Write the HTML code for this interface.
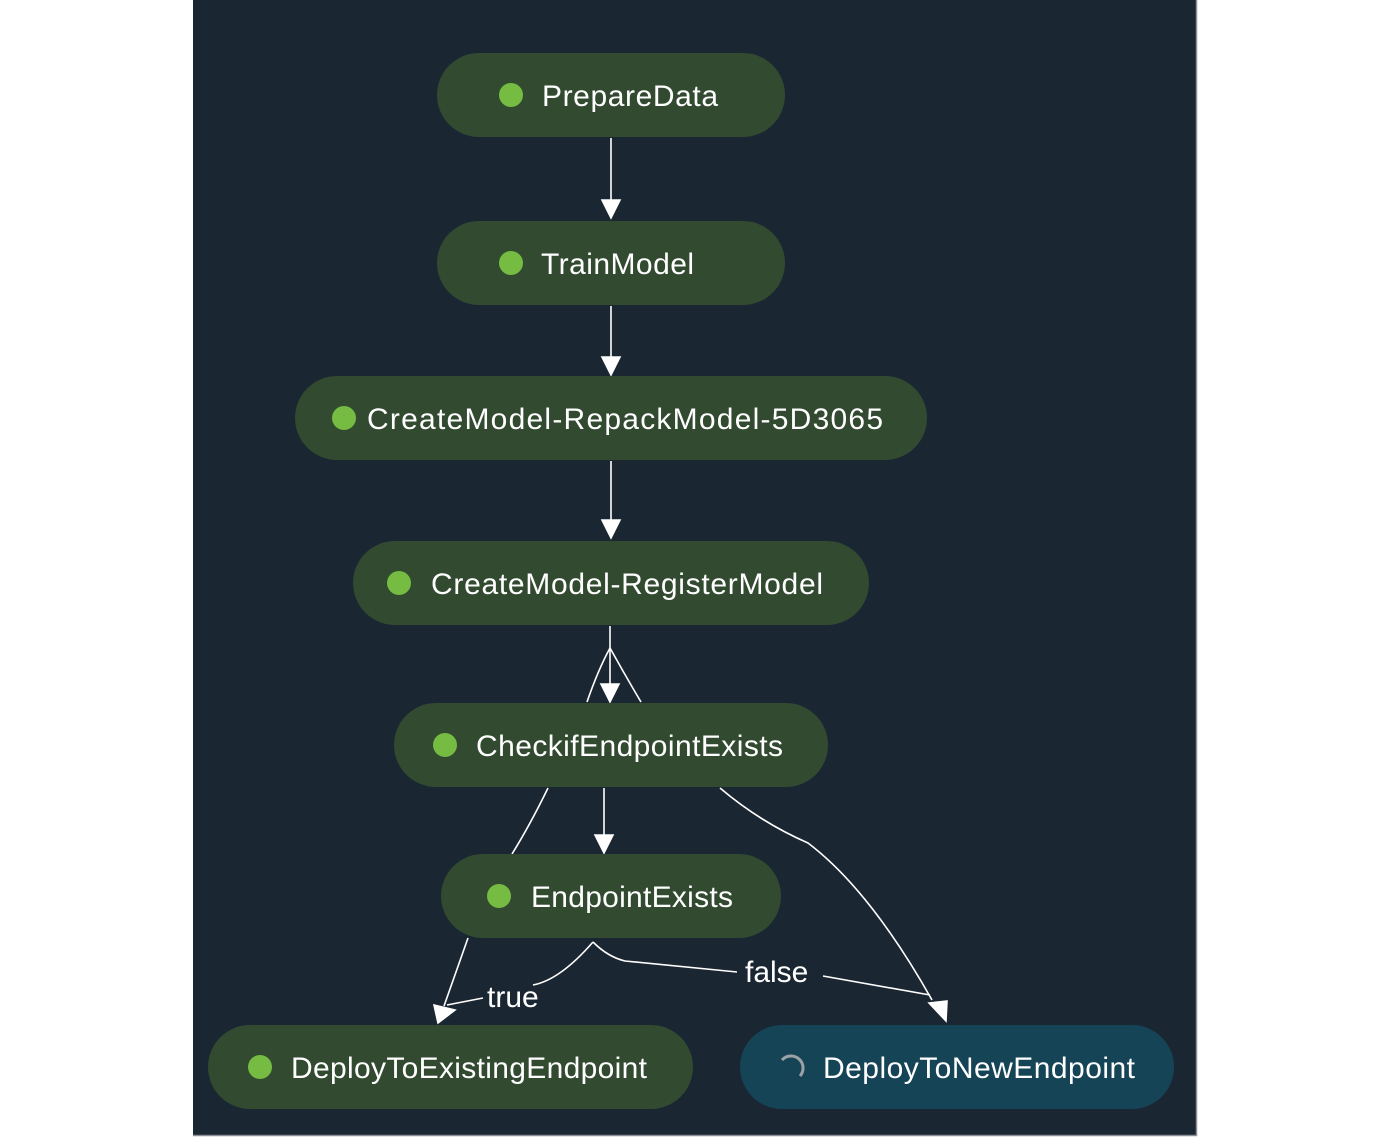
<!DOCTYPE html>
<html><head><meta charset="utf-8"><style>
html,body{margin:0;padding:0;background:#fff;width:1388px;height:1137px;overflow:hidden}
svg{display:block}
text{font-family:"Liberation Sans",sans-serif;font-size:30px;fill:#fff}
</style></head><body>
<svg width="1388" height="1137" viewBox="0 0 1388 1137">
<rect x="193" y="0" width="1003" height="1135" fill="#1b2633"/>
<line x1="1196.5" y1="0" x2="1196.5" y2="1136" stroke="#8a8f95" stroke-width="1.5"/>
<line x1="193" y1="1135.5" x2="1197" y2="1135.5" stroke="#8a8f95" stroke-width="1.5"/>
<g stroke="#fff" stroke-width="1.6" fill="none">
<path d="M611 138 V200"/><path d="M602 200 L620 200 L611 218z" fill="#fff"/>
<path d="M611 306 V357"/><path d="M602 357 L620 357 L611 375z" fill="#fff"/>
<path d="M611 461 V520"/><path d="M602 520 L620 520 L611 538z" fill="#fff"/>
<path d="M610 626 V684"/><path d="M601 684 L619 684 L610 702z" fill="#fff"/>
<path d="M610 648 Q598 670 587 702"/><path d="M610 648 Q625 675 641 702"/>
<path d="M604 788 V835"/><path d="M595 835 L613 835 L604 853z" fill="#fff"/>
<path d="M548 788 Q530 825 512 854"/>
<path d="M720 788 Q760 822 808 843 Q870 890 932 1000"/>
<path d="M468 938 L444 1006"/><path d="M434 1005 L455 1010 L438 1023z" fill="#fff"/>
<path d="M593 942 Q560 980 533 985"/>
<path d="M483 998 L447 1005"/>
<path d="M593 942 Q608 957 625 961 L737 972"/>
<path d="M823 976 L930 995"/><path d="M929 1003 L947 1001 L946 1021z" fill="#fff"/>
</g>
<text x="487" y="1007">true</text>
<text x="745" y="982">false</text>
<g fill="#314a30">
<rect x="437" y="53" width="348" height="84" rx="42"/>
<rect x="437" y="221" width="348" height="84" rx="42"/>
<rect x="295" y="376" width="632" height="84" rx="42"/>
<rect x="353" y="541" width="516" height="84" rx="42"/>
<rect x="394" y="703" width="434" height="84" rx="42"/>
<rect x="441" y="854" width="340" height="84" rx="42"/>
<rect x="208" y="1025" width="485" height="84" rx="42"/>
</g>
<rect x="740" y="1025" width="434" height="84" rx="42" fill="#164457"/>
<g fill="#76bc43">
<circle cx="511" cy="95" r="12"/><circle cx="511" cy="263" r="12"/>
<circle cx="344" cy="418" r="12"/><circle cx="399" cy="583" r="12"/>
<circle cx="445" cy="745" r="12"/><circle cx="499" cy="896" r="12"/>
<circle cx="260" cy="1067" r="12"/>
</g>
<path d="M782 1060 A11 11 0 0 1 800 1076" stroke="#9aa3a6" stroke-width="3" fill="none"/>
<text x="542" y="106" textLength="176">PrepareData</text>
<text x="541" y="274" textLength="153">TrainModel</text>
<text x="367" y="429" textLength="516">CreateModel-RepackModel-5D3065</text>
<text x="431" y="594" textLength="392">CreateModel-RegisterModel</text>
<text x="476" y="756" textLength="307">CheckifEndpointExists</text>
<text x="531" y="907" textLength="202">EndpointExists</text>
<text x="291" y="1078" textLength="356">DeployToExistingEndpoint</text>
<text x="823" y="1078" textLength="312">DeployToNewEndpoint</text>
</svg>
</body></html>
